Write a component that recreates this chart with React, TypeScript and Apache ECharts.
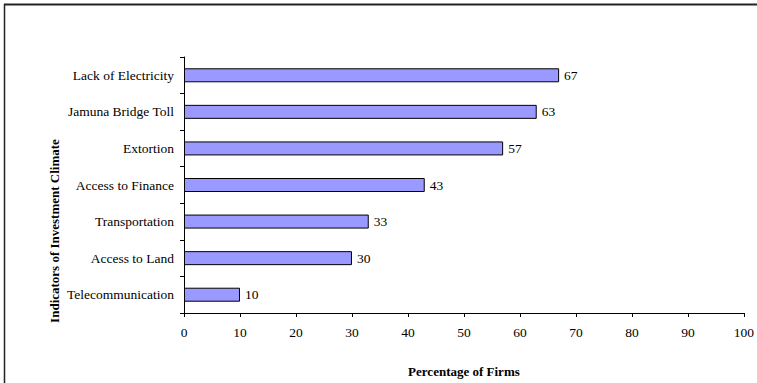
import React, { useEffect, useRef } from "react";
import * as echarts from "echarts";

// Indicators listed top to bottom as they appear in the chart
const categories = [
  "Lack of Electricity",
  "Jamuna Bridge Toll",
  "Extortion",
  "Access to Finance",
  "Transportation",
  "Access to Land",
  "Telecommunication",
];
const percentages = [67, 63, 57, 43, 33, 30, 10];
const xTicks = { min: 0, max: 100, interval: 10 };

const FONT = "Liberation Serif";

export default function App() {
  const ref = useRef<HTMLDivElement>(null);

  useEffect(() => {
    document.body.style.margin = "0";
    document.body.style.overflow = "hidden";
    if (!ref.current) return;
    const chart = echarts.init(ref.current, null, { renderer: "svg" });
    chart.setOption({
      animation: false,
      backgroundColor: "#ffffff",
      textStyle: { fontFamily: FONT, color: "#000" },
      grid: { left: 184, right: 11, top: 57, bottom: 69, containLabel: false },
      xAxis: {
        type: "value",
        min: xTicks.min,
        max: xTicks.max,
        interval: xTicks.interval,
        name: "Percentage of Firms",
        nameLocation: "middle",
        nameGap: 52,
        nameTextStyle: { fontFamily: FONT, fontSize: 13, fontWeight: "bold", color: "#000" },
        axisLine: { show: true, lineStyle: { color: "#000", width: 1 } },
        axisTick: { show: true, length: 4, lineStyle: { color: "#000" } },
        axisLabel: { fontFamily: FONT, fontSize: 13.5, color: "#000", margin: 12 },
        splitLine: { show: false },
      },
      yAxis: {
        type: "category",
        data: categories,
        inverse: true,
        axisLine: { show: true, lineStyle: { color: "#000", width: 1 } },
        axisTick: { show: true, length: 4, lineStyle: { color: "#000" } },
        axisLabel: { fontFamily: FONT, fontSize: 13.5, color: "#000", margin: 10 },
        splitLine: { show: false },
      },
      graphic: [
        // outer frame: only the top and left edges fall inside the page
        {
          type: "line",
          shape: { x1: 4, y1: 4.5, x2: 757, y2: 4.5 },
          style: { stroke: "#222", lineWidth: 2 },
          silent: true,
        },
        {
          type: "line",
          shape: { x1: 4.5, y1: 4, x2: 4.5, y2: 383 },
          style: { stroke: "#222", lineWidth: 1.5 },
          silent: true,
        },
        {
          type: "text",
          x: 54,
          y: 231,
          rotation: Math.PI / 2,
          style: {
            text: "Indicators of Investment Climate",
            fontFamily: FONT,
            fontSize: 13,
            fontWeight: "bold",
            fill: "#000",
            align: "center",
            verticalAlign: "middle",
          },
        },
      ],
      series: [
        {
          type: "bar",
          data: percentages,
          barWidth: 14,
          itemStyle: { color: "#9999FF", borderColor: "#000", borderWidth: 1 },
          label: {
            show: true,
            position: "right",
            distance: 5,
            fontFamily: FONT,
            fontSize: 13.5,
            color: "#000",
          },
        },
      ],
    });
    return () => chart.dispose();
  }, []);

  return (
    <div
      ref={ref}
      style={{ position: "fixed", left: 0, top: 0, width: 757, height: 383, background: "#fff" }}
    />
  );
}
